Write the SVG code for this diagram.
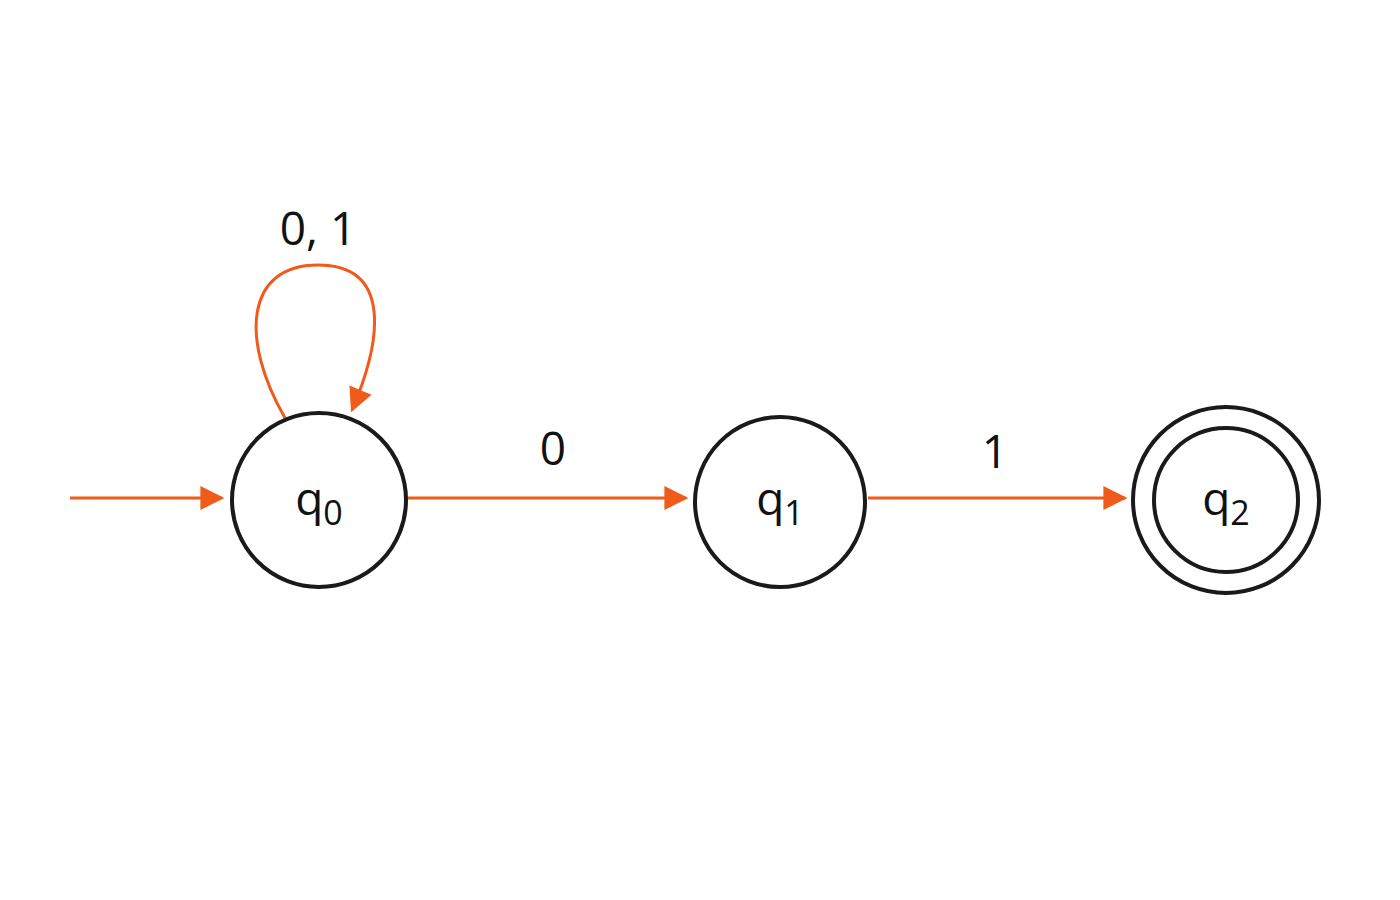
<svg xmlns="http://www.w3.org/2000/svg" width="1400" height="900" viewBox="0 0 1400 900">
<style>
.st{fill:none;stroke:#1a1a1a;stroke-width:4}
.e{fill:none;stroke:#f05a1a;stroke-width:3}
.t{font-family:"Open Sans","DejaVu Sans",sans-serif;font-size:46px;fill:#111;text-anchor:middle}
.s{font-size:34px}
</style>
<defs><marker id="a" viewBox="0 0 10 10" refX="9" refY="5" markerWidth="8" markerHeight="8" markerUnits="userSpaceOnUse" orient="auto"><path d="M0,0L10,5L0,10z" fill="#f05a1a"/></marker>
<marker id="m" viewBox="0 0 10 10" refX="9" refY="5" markerWidth="26" markerHeight="24" markerUnits="userSpaceOnUse" orient="auto"><path d="M0,0L10,5L0,10z" fill="#f05a1a"/></marker></defs>
<rect width="1400" height="900" fill="#fff"/>
<g id="connectors">
<path class="e" d="M70,498H222" marker-end="url(#m)"/>
<path class="e" d="M407,498H686" marker-end="url(#m)"/>
<path class="e" d="M868,498H1125" marker-end="url(#m)"/>
<path class="e" d="M285,418C240,340 245,265 318,265C392,265 382,340 352,410" marker-end="url(#m)"/>
<text class="t" x="318" y="245">0, 1</text>
<text class="t" x="553" y="465">0</text>
<text class="t" x="995" y="468">1</text>
</g>
<g id="q0"><circle class="st" cx="319" cy="500" r="87"/><text class="t" x="319" y="515">q<tspan class="s" dy="10">0</tspan></text></g>
<g id="q1"><circle class="st" cx="780" cy="502" r="85"/><text class="t" x="780" y="515">q<tspan class="s" dy="10">1</tspan></text></g>
<g id="q2"><circle class="st" cx="1226" cy="500" r="93"/><circle class="st" cx="1226" cy="500" r="72"/><text class="t" x="1226" y="515">q<tspan class="s" dy="10">2</tspan></text></g>
</svg>
